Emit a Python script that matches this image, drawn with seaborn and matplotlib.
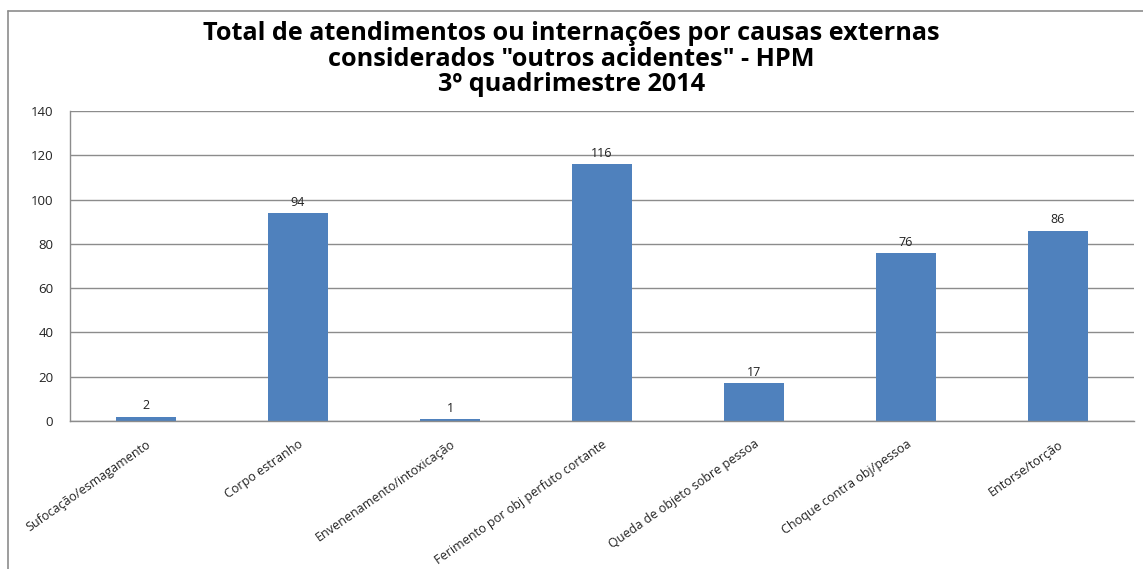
import matplotlib
matplotlib.use("Agg")
import matplotlib.pyplot as plt
import seaborn as sns
import pandas as pd
from matplotlib.lines import Line2D

categories = [
    "Sufocação/esmagamento",
    "Corpo estranho",
    "Envenenamento/intoxicação",
    "Ferimento por obj perfuto cortante",
    "Queda de objeto sobre pessoa",
    "Choque contra obj/pessoa",
    "Entorse/torção",
]
values = [2, 94, 1, 116, 17, 76, 86]
y_ticks = [0, 20, 40, 60, 80, 100, 120, 140]
title = ('Total de atendimentos ou internações por causas externas\n'
         'considerados "outros acidentes" - HPM\n'
         '3º quadrimestre 2014')

df = pd.DataFrame({"categoria": categories, "total": values})

sns.set_theme(style="white")
plt.rcParams["font.family"] = ["Open Sans", "DejaVu Sans"]

fig = plt.figure(figsize=(11.43, 5.69), dpi=100)
ax = fig.add_axes([70 / 1143, 1 - 421 / 569, (1134 - 70) / 1143, (421 - 111) / 569])

sns.barplot(data=df, x="categoria", y="total", color="#4F81BD",
            width=0.4, saturation=1, linewidth=0, ax=ax)

ax.set_ylim(0, 140)
ax.set_yticks(y_ticks)
ax.set_yticklabels([str(t) for t in y_ticks], fontsize=9.5, color="#222222")
ax.yaxis.grid(True, color="#8c8c8c", linewidth=1)
ax.set_axisbelow(True)
ax.set_xlim(-0.5, len(categories) - 0.5)
ax.set_xlabel("")
ax.set_ylabel("")
ax.tick_params(axis="both", length=0)
ax.tick_params(axis="y", pad=12)
ax.tick_params(axis="x", pad=12)
ax.set_xticks(range(len(categories)))
ax.set_xticklabels(categories, rotation=35, ha="right", rotation_mode="anchor",
                   fontsize=9, color="#222222")

for side in ["top", "right"]:
    ax.spines[side].set_visible(False)
for side in ["left", "bottom"]:
    ax.spines[side].set_color("#8c8c8c")
    ax.spines[side].set_linewidth(1)

for i, v in enumerate(values):
    ax.annotate(str(v), (i, v), xytext=(0, 3), textcoords="offset points",
                ha="center", va="bottom", fontsize=9, color="#222222")

fig.text(0.5, 1 - 59 / 569, title, ha="center", va="center", fontsize=18.2,
         fontweight="bold", color="black", linespacing=1.04)

# chart frame (top and left edges)
fx = 7.5 / 1143
fy = 1 - 10.5 / 569
fig.add_artist(Line2D([fx, 1], [fy, fy], color="#8c8c8c", linewidth=1.2,
                      transform=fig.transFigure))
fig.add_artist(Line2D([fx, fx], [0, fy], color="#8c8c8c", linewidth=1.2,
                      transform=fig.transFigure))

fig.savefig("out.png", dpi=100, facecolor="white")
